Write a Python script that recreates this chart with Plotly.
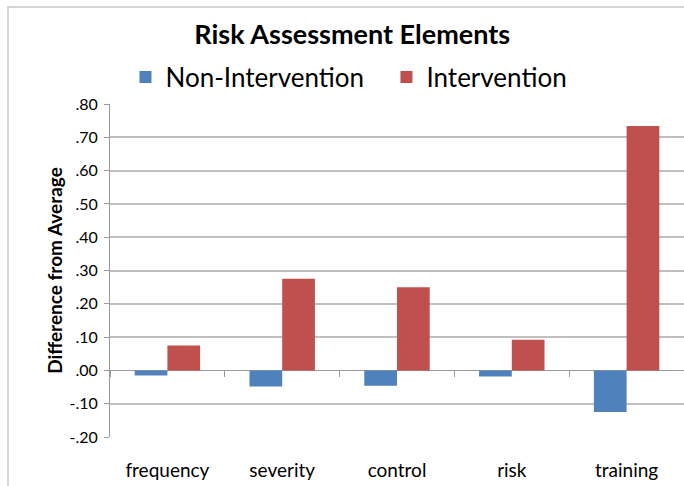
import plotly.graph_objects as go

categories = ["frequency", "severity", "control", "risk", "training"]
non_intervention = [-0.015, -0.048, -0.046, -0.018, -0.125]
intervention = [0.075, 0.275, 0.25, 0.092, 0.734]
y_tickvals = [0.8, 0.7, 0.6, 0.5, 0.4, 0.3, 0.2, 0.1, 0.0, -0.1, -0.2]
y_ticktext = [".80", ".70", ".60", ".50", ".40", ".30", ".20", ".10", ".00", "-.10", "-.20"]

FONT = "Lato, 'Open Sans', sans-serif"
GRID = "#c0c0c0"
AXIS = "#9a9a9a"

fig = go.Figure()
fig.add_trace(go.Bar(name="Non-Intervention", x=categories, y=non_intervention,
                     marker=dict(color="#4F81BD", line=dict(width=0))))
fig.add_trace(go.Bar(name="Intervention", x=categories, y=intervention,
                     marker=dict(color="#C0504D", line=dict(width=0))))
# invisible helper trace so the zero-line category tick axis is drawn
fig.add_trace(go.Scatter(x=categories, y=[None] * len(categories), xaxis="x2",
                         mode="markers", showlegend=False, hoverinfo="skip"))

fig.update_layout(
    width=684, height=486,
    margin=dict(l=110, r=0, t=104, b=49, autoexpand=False),
    paper_bgcolor="white", plot_bgcolor="white",
    barmode="group", bargap=0.43, bargroupgap=0,
    font=dict(family=FONT, color="#000000"),
    title=dict(text="<b>Risk Assessment Elements</b>", x=0.515, xref="container",
               xanchor="center", y=1 - 35 / 486, yref="container", yanchor="middle",
               font=dict(size=27, family=FONT, color="#000000")),
    legend=dict(orientation="h", x=0.565, xref="container", xanchor="center",
                y=1 - 77 / 486, yref="container", yanchor="middle",
                font=dict(size=26, family=FONT), itemsizing="constant",
                entrywidth=216, entrywidthmode="pixels",
                bgcolor="rgba(0,0,0,0)", traceorder="normal"),
    xaxis=dict(type="category", categoryorder="array", categoryarray=categories,
               showgrid=False, showline=False, ticks="", zeroline=False,
               ticklabelstandoff=20, tickfont=dict(size=19, family=FONT)),
    xaxis2=dict(type="category", categoryorder="array", categoryarray=categories,
                overlaying="x", matches="x", anchor="free", position=0.2,
                showgrid=False, showline=False, showticklabels=False,
                ticks="outside", tickson="boundaries", ticklen=6,
                tickcolor=AXIS, tickwidth=1),
    yaxis=dict(range=[-0.2, 0.8], tickvals=y_tickvals, ticktext=y_ticktext,
               showgrid=True, gridcolor=GRID, gridwidth=1.5,
               zeroline=True, zerolinecolor=AXIS, zerolinewidth=1,
               showline=True, linecolor=AXIS, linewidth=1,
               ticks="outside", ticklen=5, tickcolor=AXIS,
               ticklabelstandoff=3,
               tickfont=dict(size=16, family=FONT),
               title=dict(text="<b>Difference from Average</b>", standoff=1,
                          font=dict(size=19, family=FONT))),
    shapes=[dict(type="rect", xref="paper", yref="paper",
                 xsizemode="pixel", ysizemode="pixel", xanchor=0, yanchor=0,
                 x0=-102, x1=700, y0=-80, y1=430,
                 line=dict(color="#c8c8c8", width=1.5), fillcolor="rgba(0,0,0,0)",
                 layer="below")],
)

fig.write_html("out.html", config={"displayModeBar": False},
               post_script="document.body.style.margin='0';document.body.style.overflow='hidden';")
